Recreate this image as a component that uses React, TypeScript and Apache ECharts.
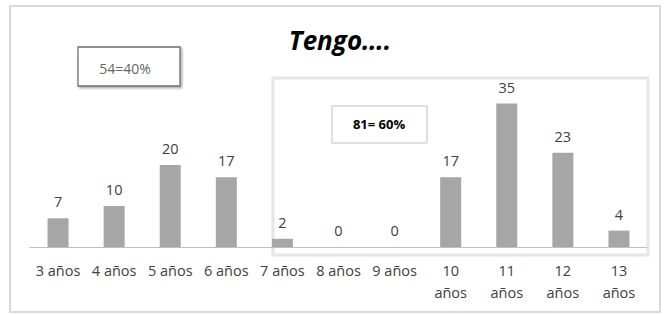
import React, { useEffect, useRef } from "react";
import * as echarts from "echarts";

const categories = ["3 años", "4 años", "5 años", "6 años", "7 años", "8 años", "9 años", "10\naños", "11\naños", "12\naños", "13\naños"];
const values = [7, 10, 20, 17, 2, 0, 0, 17, 35, 23, 4];
const titleText = "Tengo….";
const boxLeftText = "54=40%";
const boxRightText = "81= 60%";

const FONT = "'Open Sans', Lato, sans-serif";

export default function App() {
  const ref = useRef<HTMLDivElement>(null);
  useEffect(() => {
    if (!ref.current) return;
    const chart = echarts.init(ref.current, null, { renderer: "svg" });
    chart.setOption({
      animation: false,
      backgroundColor: "#ffffff",
      grid: { left: 30, right: 24, top: 83, bottom: 67 },
      xAxis: {
        type: "category",
        data: categories,
        axisLine: { lineStyle: { color: "#bfbfbf", width: 1 } },
        axisTick: { show: false },
        axisLabel: {
          interval: 0,
          color: "#404040",
          fontSize: 14.5,
          lineHeight: 22,
          margin: 12,
          fontFamily: FONT,
          verticalAlign: "top",
        },
      },
      yAxis: {
        type: "value",
        min: 0,
        max: 40,
        show: false,
        splitLine: { show: false },
      },
      graphic: [
        {
          type: "rect",
          z: 0,
          shape: { x: 10, y: 6, width: 650, height: 306 },
          style: { fill: "none", stroke: "#d9d9d9", lineWidth: 2 },
        },
        {
          type: "rect",
          z: 0,
          shape: { x: 273, y: 78, width: 375, height: 177 },
          style: { fill: "none", stroke: "#e6e6e6", lineWidth: 3 },
        },
        {
          type: "rect",
          z: 5,
          shape: { x: 78, y: 47, width: 102, height: 39 },
          style: {
            fill: "#ffffff",
            stroke: "#6e6e6e",
            lineWidth: 1.3,
            shadowColor: "rgba(0,0,0,0.35)",
            shadowBlur: 2,
            shadowOffsetX: 1.5,
            shadowOffsetY: 1.5,
          },
        },
        {
          type: "text",
          z: 6,
          x: 125,
          y: 68,
          style: {
            text: boxLeftText,
            fill: "#666666",
            font: "14px " + FONT,
            textAlign: "center",
            textVerticalAlign: "middle",
          },
        },
        {
          type: "rect",
          z: 5,
          shape: { x: 332, y: 106, width: 95, height: 37 },
          style: { fill: "#ffffff", stroke: "#bfbfbf", lineWidth: 1 },
        },
        {
          type: "text",
          z: 6,
          x: 379,
          y: 124,
          style: {
            text: boxRightText,
            fill: "#000000",
            font: "bold 13px " + FONT,
            textAlign: "center",
            textVerticalAlign: "middle",
          },
        },
        {
          type: "text",
          z: 6,
          x: 340,
          y: 40,
          style: {
            text: titleText,
            fill: "#000000",
            font: "italic bold 26px " + FONT,
            textAlign: "center",
            textVerticalAlign: "middle",
          },
        },
      ],
      series: [
        {
          type: "bar",
          data: values,
          barWidth: 21,
          itemStyle: { color: "#a6a6a6" },
          label: {
            show: true,
            position: "top",
            distance: 9,
            color: "#404040",
            fontSize: 14.5,
            fontFamily: FONT,
          },
        },
      ],
    });
    return () => chart.dispose();
  }, []);
  return (
    <div
      ref={ref}
      style={{ position: "absolute", left: 0, top: 0, width: 671, height: 314 }}
    />
  );
}
